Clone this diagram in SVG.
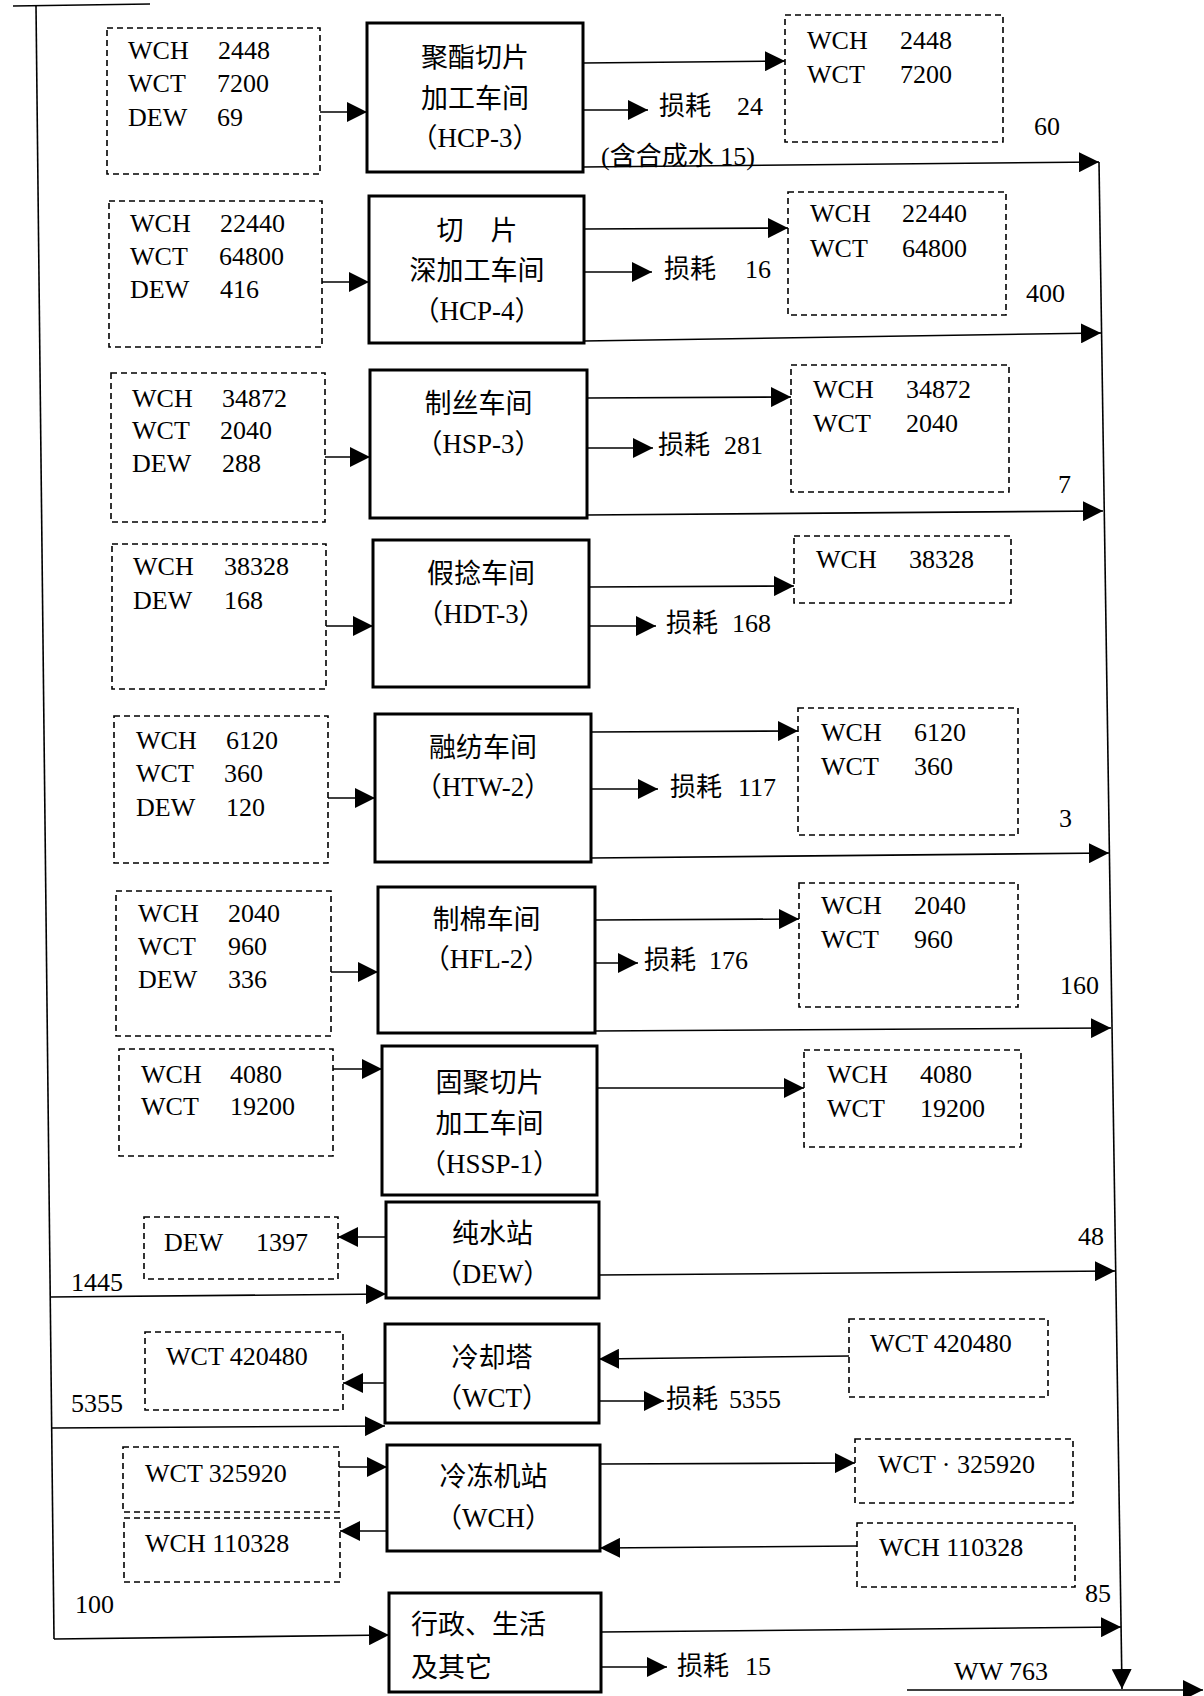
<svg xmlns="http://www.w3.org/2000/svg" width="1204" height="1696" viewBox="0 0 1204 1696">
<defs>
<style>
.dash{fill:none;stroke:#000;stroke-width:1.6;stroke-dasharray:6 4}
.box{fill:none;stroke:#000;stroke-width:3}
.ln{fill:none;stroke:#000;stroke-width:1.6}
.ar{fill:none;stroke:#000;stroke-width:1.6;marker-end:url(#ah)}
text{font-family:"Liberation Serif","Noto Sans CJK SC",serif;font-size:26px;fill:#000}
.c{font-size:27px;text-anchor:middle}
.l{font-size:27px}
</style>
<marker id="ah" viewBox="0 0 20 20" refX="20" refY="10" markerWidth="20" markerHeight="20" markerUnits="userSpaceOnUse" orient="auto">
<path d="M0,0 L20,10 L0,20 Z" fill="#000"/>
</marker>
</defs>
<rect x="0" y="0" width="1204" height="1696" fill="#fff"/>

<!-- Row 1 HCP-3 -->
<g id="in-hcp3">
<rect class="dash" x="107" y="28" width="213" height="146"/>
<text x="128" y="59">WCH</text><text x="218" y="59">2448</text>
<text x="128" y="92">WCT</text><text x="217" y="92">7200</text>
<text x="128" y="126">DEW</text><text x="217" y="126">69</text>
</g>
<g id="hcp3">
<rect class="box" x="367" y="23" width="216" height="149"/>
<text class="c" x="475" y="67">聚酯切片</text>
<text class="c" x="475" y="108">加工车间</text>
<text class="c" x="475" y="147">（HCP-3）</text>
</g>
<g id="out-hcp3">
<rect class="dash" x="785" y="15" width="218" height="127"/>
<text x="807" y="49">WCH</text><text x="900" y="49">2448</text>
<text x="807" y="83">WCT</text><text x="900" y="83">7200</text>
</g>

<!-- Row 2 HCP-4 -->
<g id="in-hcp4">
<rect class="dash" x="109" y="201" width="213" height="146"/>
<text x="130" y="232">WCH</text><text x="220" y="232">22440</text>
<text x="130" y="265">WCT</text><text x="219" y="265">64800</text>
<text x="130" y="298">DEW</text><text x="220" y="298">416</text>
</g>
<g id="hcp4">
<rect class="box" x="369" y="196" width="215" height="147"/>
<text class="c" x="477" y="240">切　片</text>
<text class="c" x="477" y="280">深加工车间</text>
<text class="c" x="477" y="320">（HCP-4）</text>
</g>
<g id="out-hcp4">
<rect class="dash" x="788" y="192" width="218" height="123"/>
<text x="810" y="222">WCH</text><text x="902" y="222">22440</text>
<text x="810" y="257">WCT</text><text x="902" y="257">64800</text>
</g>

<!-- Row 3 HSP-3 -->
<g id="in-hsp3">
<rect class="dash" x="111" y="373" width="214" height="149"/>
<text x="132" y="407">WCH</text><text x="222" y="407">34872</text>
<text x="132" y="439">WCT</text><text x="220" y="439">2040</text>
<text x="132" y="472">DEW</text><text x="222" y="472">288</text>
</g>
<g id="hsp3">
<rect class="box" x="370" y="370" width="217" height="148"/>
<text class="c" x="478.5" y="413">制丝车间</text>
<text class="c" x="478.5" y="453">（HSP-3）</text>
</g>
<g id="out-hsp3">
<rect class="dash" x="791" y="365" width="218" height="127"/>
<text x="813" y="398">WCH</text><text x="906" y="398">34872</text>
<text x="813" y="432">WCT</text><text x="906" y="432">2040</text>
</g>

<!-- Row 4 HDT-3 -->
<g id="in-hdt3">
<rect class="dash" x="112" y="544" width="214" height="145"/>
<text x="133" y="575">WCH</text><text x="224" y="575">38328</text>
<text x="133" y="609">DEW</text><text x="224" y="609">168</text>
</g>
<g id="hdt3">
<rect class="box" x="373" y="540" width="216" height="147"/>
<text class="c" x="481" y="583">假捻车间</text>
<text class="c" x="481" y="623">（HDT-3）</text>
</g>
<g id="out-hdt3">
<rect class="dash" x="794" y="536" width="217" height="67"/>
<text x="816" y="568">WCH</text><text x="909" y="568">38328</text>
</g>

<!-- Row 5 HTW-2 -->
<g id="in-htw2">
<rect class="dash" x="114" y="716" width="214" height="147"/>
<text x="136" y="749">WCH</text><text x="226" y="749">6120</text>
<text x="136" y="782">WCT</text><text x="224" y="782">360</text>
<text x="136" y="816">DEW</text><text x="226" y="816">120</text>
</g>
<g id="htw2">
<rect class="box" x="375" y="714" width="216" height="148"/>
<text class="c" x="483" y="757">融纺车间</text>
<text class="c" x="483" y="796">（HTW-2）</text>
</g>
<g id="out-htw2">
<rect class="dash" x="798" y="708" width="220" height="127"/>
<text x="821" y="741">WCH</text><text x="914" y="741">6120</text>
<text x="821" y="775">WCT</text><text x="914" y="775">360</text>
</g>

<!-- Row 6 HFL-2 -->
<g id="in-hfl2">
<rect class="dash" x="116" y="891" width="215" height="145"/>
<text x="138" y="922">WCH</text><text x="228" y="922">2040</text>
<text x="138" y="955">WCT</text><text x="228" y="955">960</text>
<text x="138" y="988">DEW</text><text x="228" y="988">336</text>
</g>
<g id="hfl2">
<rect class="box" x="378" y="887" width="217" height="146"/>
<text class="c" x="486.5" y="929">制棉车间</text>
<text class="c" x="486.5" y="968">（HFL-2）</text>
</g>
<g id="out-hfl2">
<rect class="dash" x="799" y="883" width="219" height="124"/>
<text x="821" y="914">WCH</text><text x="914" y="914">2040</text>
<text x="821" y="948">WCT</text><text x="914" y="948">960</text>
</g>

<!-- Row 7 HSSP-1 -->
<g id="in-hssp1">
<rect class="dash" x="119" y="1049" width="214" height="107"/>
<text x="141" y="1083">WCH</text><text x="230" y="1083">4080</text>
<text x="141" y="1115">WCT</text><text x="230" y="1115">19200</text>
</g>
<g id="hssp1">
<rect class="box" x="382" y="1046" width="215" height="149"/>
<text class="c" x="489.5" y="1092">固聚切片</text>
<text class="c" x="489.5" y="1133">加工车间</text>
<text class="c" x="489.5" y="1173">（HSSP-1）</text>
</g>
<g id="out-hssp1">
<rect class="dash" x="804" y="1050" width="217" height="97"/>
<text x="827" y="1083">WCH</text><text x="920" y="1083">4080</text>
<text x="827" y="1117">WCT</text><text x="920" y="1117">19200</text>
</g>

<!-- DEW station -->
<g id="dew">
<rect class="box" x="386" y="1202" width="213" height="96"/>
<text class="c" x="492.5" y="1243">纯水站</text>
<text class="c" x="492.5" y="1283">（DEW）</text>
</g>
<g id="out-dew">
<rect class="dash" x="144" y="1217" width="194" height="62"/>
<text x="164" y="1251">DEW</text><text x="256" y="1251">1397</text>
</g>

<!-- Cooling tower -->
<g id="wct">
<rect class="box" x="385" y="1324" width="214" height="99"/>
<text class="c" x="492" y="1367">冷却塔</text>
<text class="c" x="492" y="1407">（WCT）</text>
</g>
<g id="wct-out">
<rect class="dash" x="145" y="1332" width="198" height="78"/>
<text x="166" y="1365">WCT 420480</text>
</g>
<g id="wct-in">
<rect class="dash" x="849" y="1319" width="199" height="78"/>
<text x="870" y="1352">WCT 420480</text>
</g>

<!-- Chiller -->
<g id="wch">
<rect class="box" x="387" y="1445" width="213" height="106"/>
<text class="c" x="493.5" y="1486">冷冻机站</text>
<text class="c" x="493.5" y="1527">（WCH）</text>
</g>
<g id="wch-wct-in">
<rect class="dash" x="123" y="1447" width="216" height="65"/>
<text x="145" y="1482">WCT 325920</text>
</g>
<g id="wch-wch-out">
<rect class="dash" x="124" y="1518" width="216" height="64"/>
<text x="145" y="1552">WCH 110328</text>
</g>
<g id="wch-wct-out">
<rect class="dash" x="855" y="1439" width="218" height="64"/>
<text x="878" y="1473">WCT · 325920</text>
</g>
<g id="wch-wch-in">
<rect class="dash" x="857" y="1523" width="218" height="64"/>
<text x="879" y="1556">WCH 110328</text>
</g>

<!-- Admin -->
<g id="admin">
<rect class="box" x="389" y="1593" width="212" height="99"/>
<text class="l" x="411" y="1634">行政、生活</text>
<text class="l" x="411" y="1677">及其它</text>
</g>

<!-- Connectors -->
<g id="connectors">
<line class="ln" x1="13" y1="6" x2="150" y2="4"/>
<line class="ln" x1="36" y1="6" x2="54" y2="1639"/>

<line class="ar" x1="320" y1="112" x2="367" y2="112"/>
<line class="ar" x1="583" y1="63" x2="785" y2="61"/>
<line class="ar" x1="583" y1="110" x2="648" y2="110"/>
<line class="ar" x1="583" y1="167" x2="1099" y2="162"/>

<line class="ar" x1="322" y1="282" x2="369" y2="282"/>
<line class="ar" x1="584" y1="229" x2="788" y2="228"/>
<line class="ar" x1="584" y1="272" x2="652" y2="272"/>
<line class="ar" x1="584" y1="341" x2="1101" y2="333"/>

<line class="ar" x1="325" y1="457" x2="370" y2="457"/>
<line class="ar" x1="587" y1="398" x2="791" y2="397"/>
<line class="ar" x1="587" y1="448" x2="653" y2="448"/>
<line class="ar" x1="587" y1="515" x2="1103" y2="511"/>

<line class="ar" x1="326" y1="626" x2="373" y2="626"/>
<line class="ar" x1="589" y1="587" x2="794" y2="586"/>
<line class="ar" x1="589" y1="626" x2="656" y2="626"/>

<line class="ar" x1="328" y1="798" x2="375" y2="798"/>
<line class="ar" x1="591" y1="732" x2="798" y2="731"/>
<line class="ar" x1="591" y1="789" x2="658" y2="789"/>
<line class="ar" x1="591" y1="858" x2="1109" y2="853"/>

<line class="ar" x1="331" y1="972" x2="378" y2="972"/>
<line class="ar" x1="595" y1="920" x2="799" y2="919"/>
<line class="ar" x1="595" y1="963" x2="638" y2="963"/>
<line class="ar" x1="595" y1="1031" x2="1111" y2="1028"/>

<line class="ar" x1="333" y1="1069" x2="382" y2="1069"/>
<line class="ar" x1="597" y1="1088" x2="804" y2="1088"/>

<line class="ar" x1="386" y1="1237" x2="338" y2="1237"/>
<line class="ar" x1="50" y1="1297" x2="386" y2="1294"/>
<line class="ar" x1="599" y1="1275" x2="1115" y2="1271"/>

<line class="ar" x1="385" y1="1383" x2="343" y2="1383"/>
<line class="ar" x1="849" y1="1356" x2="599" y2="1359"/>
<line class="ar" x1="599" y1="1401" x2="664" y2="1401"/>
<line class="ar" x1="52" y1="1428" x2="385" y2="1426"/>

<line class="ar" x1="339" y1="1467" x2="387" y2="1467"/>
<line class="ar" x1="387" y1="1531" x2="340" y2="1531"/>
<line class="ar" x1="600" y1="1464" x2="855" y2="1463"/>
<line class="ar" x1="857" y1="1546" x2="600" y2="1548"/>

<line class="ar" x1="54" y1="1639" x2="389" y2="1635"/>
<line class="ar" x1="601" y1="1632" x2="1121" y2="1627"/>
<line class="ar" x1="601" y1="1667" x2="667" y2="1667"/>

<line class="ar" x1="1099" y1="162" x2="1122" y2="1689"/>
<line class="ar" x1="907" y1="1690" x2="1203" y2="1690"/>

<text x="601" y="165">(含合成水 15)</text>
<text x="1034" y="135">60</text>
<text x="1026" y="302">400</text>
<text x="1058" y="493">7</text>
<text x="1059" y="827">3</text>
<text x="1060" y="994">160</text>
<text x="1078" y="1245">48</text>
<text x="1085" y="1602">85</text>
<text x="71" y="1291">1445</text>
<text x="71" y="1412">5355</text>
<text x="75" y="1613">100</text>
<text x="954" y="1680">WW 763</text>

<text x="659" y="115">损耗</text><text x="737" y="115">24</text>
<text x="664" y="278">损耗</text><text x="745" y="278">16</text>
<text x="658" y="454">损耗</text><text x="724" y="454">281</text>
<text x="666" y="632">损耗</text><text x="732" y="632">168</text>
<text x="670" y="796">损耗</text><text x="738" y="796">117</text>
<text x="644" y="969">损耗</text><text x="709" y="969">176</text>
<text x="666" y="1408">损耗</text><text x="729" y="1408">5355</text>
<text x="677" y="1675">损耗</text><text x="745" y="1675">15</text>
</g>
</svg>
